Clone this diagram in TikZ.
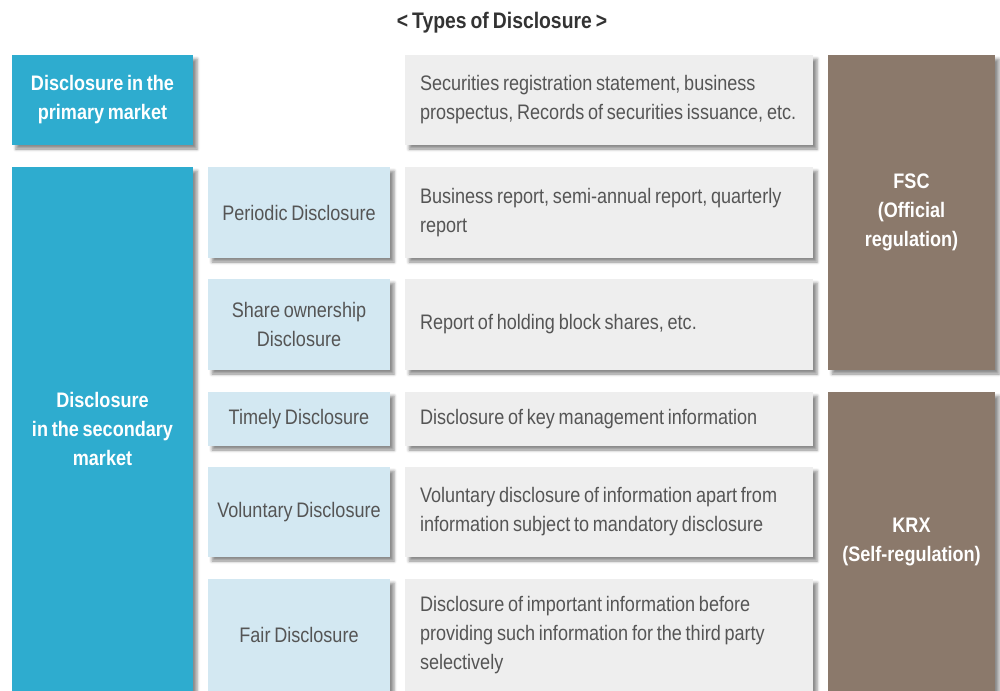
\documentclass[tikz,border=0pt]{standalone}
\usepackage{fontspec}
\setmainfont[FakeStretch=0.86,WordSpace=0.75]{Liberation Sans}
\usetikzlibrary{shadows.blur}
\definecolor{bleu}{HTML}{2EACCF}
\definecolor{bleuclair}{HTML}{D3E8F2}
\definecolor{gris}{HTML}{EEEEEE}
\definecolor{brun}{HTML}{8B796B}
\definecolor{texte}{HTML}{555555}
\begin{document}
\begin{tikzpicture}  % ------ Types of disclosure --------
      [x=1pt,y=-1pt,
       boite/.style={anchor=north west, inner sep=0pt, outer sep=0pt,
         blur shadow={shadow xshift=4pt, shadow yshift=-4pt,
           shadow blur radius=3pt, shadow opacity=45},
         font=\fontsize{21}{29}\selectfont},
       marche/.style={boite, fill=bleu, text=white, align=center,
         minimum width=181pt, font=\fontsize{21}{29}\selectfont\bfseries},
       type/.style={boite, fill=bleuclair, text=texte, align=center,
         minimum width=182pt},
       contenu/.style={boite, fill=gris, text=texte, align=flush left,
         text width=378pt, inner xsep=15pt},
       organe/.style={boite, fill=brun, text=white, align=center,
         minimum width=167pt, font=\fontsize{21}{29}\selectfont\bfseries}]
    \useasboundingbox (0,0) rectangle (1000,690);
    \node [text=black!80, font=\fontsize{22.5}{26}\selectfont\bfseries]
          (titre) at (502,23) {< Types of Disclosure >};
    % colonne 1 : marches
    \node [marche, minimum height=90pt]  (primaire)   at (12,55)
          {Disclosure in the\\primary market};
    \node [marche, minimum height=524pt] (secondaire) at (12,167)
          {Disclosure\\in the secondary\\market};
    % colonne 2 : types
    \node [type, minimum height=91pt]  (periodique) at (208,167) {Periodic Disclosure};
    \node [type, minimum height=91pt]  (detention)  at (208,279) {Share ownership\\Disclosure};
    \node [type, minimum height=54pt]  (immediate)  at (208,392) {Timely Disclosure};
    \node [type, minimum height=90pt]  (volontaire) at (208,467) {Voluntary Disclosure};
    \node [type, minimum height=112pt] (equitable)  at (208,579) {Fair Disclosure};
    % colonne 3 : contenus
    \node [contenu, minimum height=90pt]  (c1) at (405,55)
          {Securities registration statement, business\\prospectus, Records of securities issuance, etc.};
    \node [contenu, minimum height=91pt]  (c2) at (405,167)
          {Business report, semi-annual report, quarterly\\report};
    \node [contenu, minimum height=91pt]  (c3) at (405,279)
          {Report of holding block shares, etc.};
    \node [contenu, minimum height=54pt]  (c4) at (405,392)
          {Disclosure of key management information};
    \node [contenu, minimum height=90pt]  (c5) at (405,467)
          {Voluntary disclosure of information apart from\\information subject to mandatory disclosure};
    \node [contenu, minimum height=112pt] (c6) at (405,579)
          {Disclosure of important information before\\providing such information for the third party\\selectively};
    % colonne 4 : regulation
    \node [organe, minimum height=315pt] (fsc) at (828,55)  {FSC\\(Official\\regulation)};
    \node [organe, minimum height=299pt] (krx) at (828,392) {KRX\\(Self-regulation)};
\end{tikzpicture}
\end{document}
